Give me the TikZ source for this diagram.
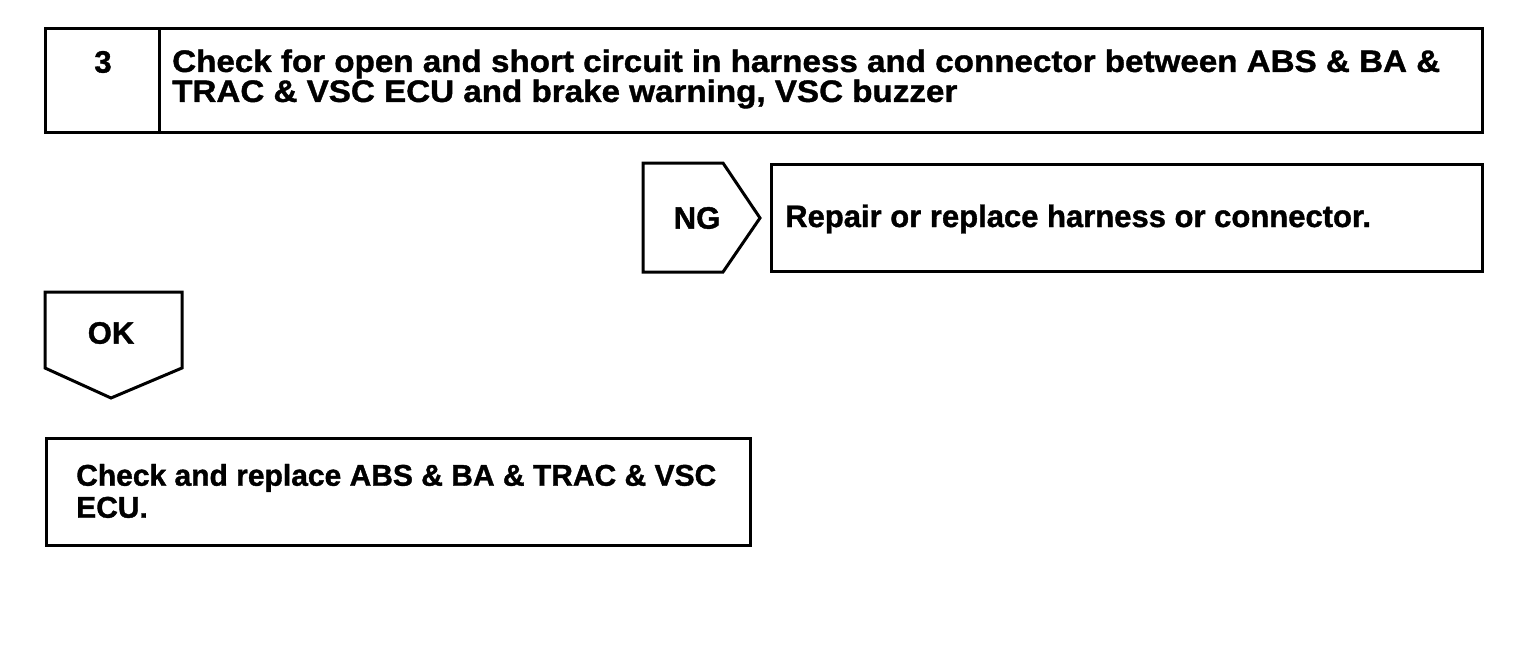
\documentclass[tikz,border=0pt]{standalone}
\usepackage{fontspec}
\setmainfont[FakeBold=1.2]{Liberation Sans}
\newfontfamily\widefont[FakeStretch=1.07,FakeBold=1.2]{Liberation Sans}
\begin{document}
\begin{tikzpicture}[x=1pt,y=-1pt,
  box/.style={draw=black, line width=3pt, inner sep=0pt, anchor=north west},
  txt/.style={font=\fontsize{31}{30}\selectfont\bfseries, inner sep=0pt, align=left},
  ttxt/.style={font=\widefont\fontsize{31}{30}\selectfont\bfseries, inner sep=0pt, align=left},
  btxt/.style={font=\fontsize{30}{32}\selectfont\bfseries, inner sep=0pt, align=left},
  tag/.style={draw=black, line width=3pt, line join=miter}]
\useasboundingbox[fill=white] (0,0) rectangle (1536,666);
% step 3 header
\node[box, minimum width=114pt, minimum height=104pt] (num) at (44,27) {};
\node[box, minimum width=1323pt, minimum height=104pt] (title) at (158,27) {};
\node[txt] (n3) at (103,62) {3};
\node[ttxt, anchor=west] (ttl) at (172,79) {Check for open and short circuit in harness and connector between ABS \& BA \&\\TRAC \& VSC ECU and brake warning, VSC buzzer};
% NG branch
\draw[tag] (643,163) -- (723,163) -- (760,218) -- (723,272) -- (643,272) -- cycle;
\node[txt] (ng) at (697,218) {NG};
\node[box, minimum width=711pt, minimum height=107pt] (repair) at (770,163) {};
\node[txt, anchor=west] (rt) at (785,219) {Repair or replace harness or connector.};
% OK branch
\draw[tag] (45,292) -- (182,292) -- (182,368) -- (111,398) -- (45,368) -- cycle;
\node[txt] (ok) at (111,333) {OK};
\node[box, minimum width=704pt, minimum height=107pt] (ecu) at (45,437) {};
\node[btxt, anchor=west] (et) at (76,491) {Check and replace ABS \& BA \& TRAC \& VSC\\ECU.};
\end{tikzpicture}
\end{document}
